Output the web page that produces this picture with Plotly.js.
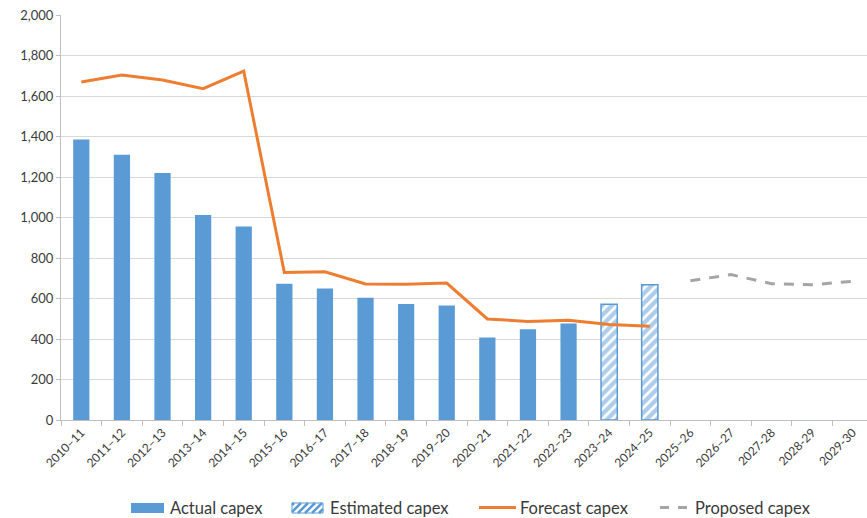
<!DOCTYPE html>
<html>
<head>
<meta charset="utf-8">
<script src="https://cdn.plot.ly/plotly-3.0.1.min.js"></script>
<style>
  html, body { margin: 0; padding: 0; background: #fff; }
  #chart { width: 867px; height: 518px; }
</style>
</head>
<body>
<div id="chart"></div>
<script>
// Financial years on the category axis
var years = ['2010–11', '2011–12', '2012–13', '2013–14', '2014–15', '2015–16', '2016–17',
  '2017–18', '2018–19', '2019–20', '2020–21', '2021–22', '2022–23', '2023–24', '2024–25',
  '2025–26', '2026–27', '2027-28', '2028-29', '2029-30'];

// Actual capex, 2010–11 to 2022–23
var actualYears = years.slice(0, 13);
var actualCapex = [1385, 1310, 1220, 1012, 955, 673, 649, 604, 573, 565, 408, 448, 477];

// Estimated capex, 2023–24 and 2024–25
var estimatedYears = years.slice(13, 15);
var estimatedCapex = [571, 668];

// Forecast capex, 2010–11 to 2024–25
var forecastYears = years.slice(0, 15);
var forecastCapex = [1669, 1704, 1679, 1636, 1723, 729, 732, 672, 670, 676, 499, 487, 492, 472, 463];

// Proposed capex, 2025–26 to 2029-30
var proposedYears = years.slice(15, 20);
var proposedCapex = [688, 718, 673, 668, 685];

var BLUE = '#5B9BD5', ORANGE = '#ED7D31', GREY = '#A5A5A5';
var FONT = 'Lato, "Open Sans", sans-serif';
var TEXT = '#3a3a3a';

var traces = [
  { type: 'bar', name: 'Actual capex', x: actualYears, y: actualCapex,
    width: 0.4, marker: { color: BLUE, line: { width: 0 } } },
  { type: 'bar', name: 'Estimated capex', x: estimatedYears, y: estimatedCapex,
    width: 0.4,
    marker: { color: '#ffffff', line: { color: BLUE, width: 1.5 },
      pattern: { shape: '/', fgcolor: BLUE, bgcolor: '#ffffff', size: 7, solidity: 0.62, fillmode: 'overlay' } } },
  { type: 'scatter', mode: 'lines', name: 'Forecast capex', x: forecastYears, y: forecastCapex,
    line: { color: ORANGE, width: 3 } },
  { type: 'scatter', mode: 'lines', name: 'Proposed capex', x: proposedYears, y: proposedCapex,
    line: { color: GREY, width: 3, dash: '10px,9px' } }
];

// Plot area geometry (pixels) used to place the hand-built legend below the axis
var L = 61, T = 15, W = 806, H = 405;
function px(x) { return (x - L) / W; }
function py(y) { return (T + H - y) / H; }

var shapes = [];
var annotations = [];

// Legend: solid swatch
shapes.push({ type: 'rect', xref: 'paper', yref: 'paper',
  x0: px(131), x1: px(164), y0: py(513), y1: py(503),
  fillcolor: BLUE, line: { width: 0 } });

// Legend: hatched swatch (outline + clipped diagonal stripes)
var hx0 = 292, hx1 = 323, hyT = 503, hyB = 513, hh = hyB - hyT;
shapes.push({ type: 'rect', xref: 'paper', yref: 'paper',
  x0: px(hx0), x1: px(hx1), y0: py(hyB), y1: py(hyT),
  fillcolor: '#ffffff', line: { color: BLUE, width: 1 } });
var stripePath = '';
for (var t = -hh + 2; t < hx1 - hx0; t += 7) {
  var sx = hx0 + t, sy = hyB, ex = hx0 + t + hh, ey = hyT;
  if (sx < hx0) { sy = hyB - (hx0 - sx); sx = hx0; }
  if (ex > hx1) { ey = hyT + (ex - hx1); ex = hx1; }
  if (ex <= sx) continue;
  stripePath += 'M' + px(sx) + ',' + py(sy) + 'L' + px(ex) + ',' + py(ey);
}
shapes.push({ type: 'path', xref: 'paper', yref: 'paper', path: stripePath,
  line: { color: BLUE, width: 2.5 } });

// Legend: forecast line
shapes.push({ type: 'line', xref: 'paper', yref: 'paper',
  x0: px(479), x1: px(516), y0: py(507.5), y1: py(507.5),
  line: { color: ORANGE, width: 3 } });

// Legend: proposed dashed line
shapes.push({ type: 'line', xref: 'paper', yref: 'paper',
  x0: px(660), x1: px(669), y0: py(507.5), y1: py(507.5),
  line: { color: GREY, width: 3 } });
shapes.push({ type: 'line', xref: 'paper', yref: 'paper',
  x0: px(678), x1: px(687), y0: py(507.5), y1: py(507.5),
  line: { color: GREY, width: 3 } });

var legendText = [
  [168, traces[0].name], [328, traces[1].name], [518, traces[2].name], [693, traces[3].name]
];
legendText.forEach(function (it) {
  annotations.push({ xref: 'paper', yref: 'paper', x: px(it[0]), y: py(508),
    xanchor: 'left', yanchor: 'middle', text: it[1], showarrow: false,
    font: { family: FONT, size: 16.5, color: TEXT } });
});

var layout = {
  width: 867, height: 518,
  margin: { l: L, r: 0, t: T, b: 518 - T - H, pad: 0 },
  paper_bgcolor: '#ffffff', plot_bgcolor: '#ffffff',
  barmode: 'overlay',
  showlegend: false,
  font: { family: FONT, color: TEXT },
  xaxis: {
    type: 'category', categoryorder: 'array', categoryarray: years,
    range: [-0.5, 19.35], tickangle: -45, tickson: 'boundaries',
    ticks: 'outside', ticklen: 5, tickcolor: '#bfbfbf',
    showline: true, linecolor: '#bfbfbf', linewidth: 1,
    showgrid: false, zeroline: false,
    tickfont: { family: FONT, size: 12, color: TEXT }
  },
  yaxis: {
    range: [0, 2000], dtick: 200, tickformat: ',d',
    ticks: 'outside', ticklen: 4, tickcolor: '#bfbfbf',
    showline: true, linecolor: '#bfbfbf', linewidth: 1,
    showgrid: true, gridcolor: '#d9d9d9', gridwidth: 1, zeroline: false,
    tickfont: { family: FONT, size: 13, color: TEXT }
  },
  shapes: shapes,
  annotations: annotations
};

Plotly.newPlot('chart', traces, layout, { displayModeBar: false, staticPlot: true });
</script>
</body>
</html>
